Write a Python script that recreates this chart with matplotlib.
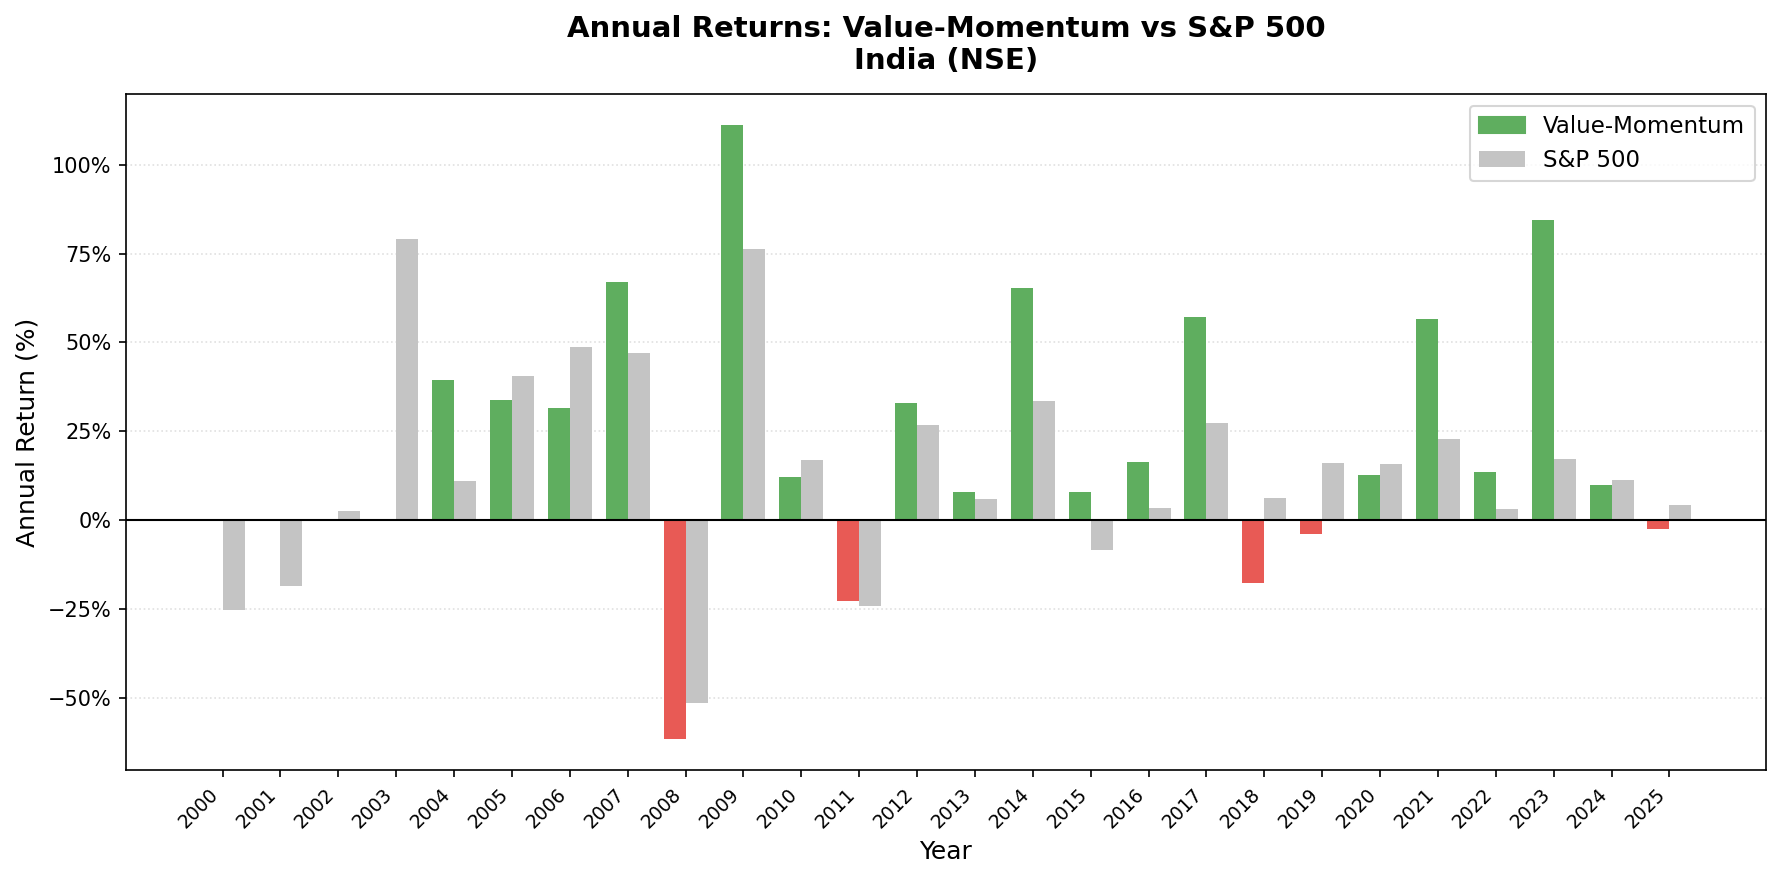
import numpy as np
import matplotlib
matplotlib.use("Agg")
import matplotlib.pyplot as plt
from matplotlib.ticker import FuncFormatter

# =============================================================================
# DATA (% annual return)
# =============================================================================
years = list(range(2000, 2026))
value_momentum = [0.0, 0.0, 0.0, 0.0, 39.3, 33.9, 31.6, 67.1, -61.7, 111.2,
                  12.1, -22.7, 32.9, 8.0, 65.2, 8.0, 16.3, 57.2, -17.6, -3.8,
                  12.8, 56.5, 13.4, 84.3, 9.9, -2.6]
sp500 = [-25.2, -18.5, 2.6, 79.2, 10.9, 40.6, 48.6, 47.0, -51.4, 76.4,
         16.9, -24.3, 26.8, 5.8, 33.5, -8.3, 3.5, 27.2, 6.1, 16.0,
         15.7, 22.7, 3.2, 17.3, 11.2, 4.2]

GREEN = '#5fae5f'
RED = '#e85a55'
GRAY = '#c4c4c4'


def pct(v, _):
    s = f'{abs(v):.0f}%'
    return ('\u2212' + s) if v < 0 else s


def main():
    fig, ax = plt.subplots(figsize=(11.88, 5.8667), dpi=150)
    fig.subplots_adjust(left=0.0707, right=0.991, top=0.893, bottom=0.125)

    x = np.arange(len(years))
    w = 0.38
    vm_colors = [GREEN if v >= 0 else RED for v in value_momentum]

    ax.bar(x - w / 2, value_momentum, w, color=vm_colors, label='Value-Momentum', zorder=2)
    ax.bar(x + w / 2, sp500, w, color=GRAY, label='S&P 500', zorder=2)

    ax.axhline(0, color='black', linewidth=1, zorder=3)
    ax.yaxis.grid(True, linestyle=':', color='#cccccc', alpha=0.6, zorder=0)
    ax.set_axisbelow(True)

    ax.set_xticks(x)
    ax.set_xticklabels([str(y) for y in years], rotation=45, ha='right', fontsize=9)
    ax.yaxis.set_major_formatter(FuncFormatter(pct))
    ax.tick_params(axis='y', labelsize=10)

    ax.set_xlabel('Year', fontsize=12)
    ax.set_ylabel('Annual Return (%)', fontsize=12)
    ax.set_title('Annual Returns: Value-Momentum vs S&P 500\nIndia (NSE)',
                 fontsize=14, fontweight='bold', pad=12)

    leg = ax.legend(loc='upper right', fontsize=11)
    leg.legend_handles[0].set_color(GREEN)

    fig.savefig('out.png', dpi=150)


if __name__ == "__main__":
    main()
